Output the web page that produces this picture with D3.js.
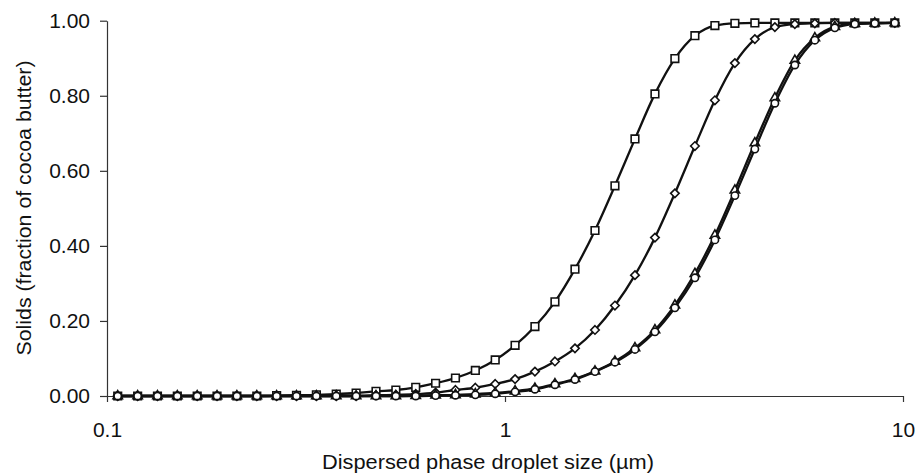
<!DOCTYPE html>
<html>
<head>
<meta charset="utf-8">
<script src="https://cdn.jsdelivr.net/npm/d3@7/dist/d3.min.js"></script>
<style>
  html, body { margin: 0; padding: 0; background: #fff; }
  svg { display: block; }
  text { font-family: "Liberation Sans", Arial, Helvetica, sans-serif; fill: #111; }
</style>
</head>
<body>
<svg id="chart" width="915" height="475"></svg>
<script>
// Droplet size classes (µm), log-spaced
const sizes = [
  0.1064, 0.1194, 0.1339, 0.1502, 0.1685, 0.1890, 0.2120, 0.2379, 0.2668, 0.2993,
  0.3358, 0.3767, 0.4226, 0.4741, 0.5318, 0.5966, 0.6693, 0.7508, 0.8423, 0.9449,
  1.060, 1.189, 1.335, 1.499, 1.683, 1.889, 2.121, 2.381, 2.672, 3.000,
  3.368, 3.781, 4.244, 4.765, 5.349, 6.005, 6.741, 7.567, 8.495, 9.537
];

// Cumulative solids (fraction of cocoa butter) per size class
const squareSolids = [
  0, 0, 0, 0, 0, 0, 0, 0, 0.001, 0.002,
  0.003, 0.005, 0.008, 0.0125, 0.016, 0.023, 0.034, 0.048, 0.068, 0.096,
  0.135, 0.185, 0.251, 0.338, 0.441, 0.560, 0.685, 0.805, 0.899, 0.960,
  0.987, 0.993, 0.994, 0.994, 0.994, 0.994, 0.994, 0.994, 0.994, 0.994
];
const diamondSolids = [
  0, 0, 0, 0, 0, 0, 0, 0, 0, 0,
  0, 0, 0, 0.002, 0.003, 0.005, 0.009, 0.016, 0.022, 0.032,
  0.045, 0.065, 0.092, 0.127, 0.176, 0.241, 0.322, 0.422, 0.540, 0.666,
  0.788, 0.887, 0.951, 0.983, 0.991, 0.993, 0.994, 0.994, 0.994, 0.994
];
const triangleSolids = [
  0, 0, 0, 0, 0, 0, 0, 0, 0, 0,
  0, 0, 0, 0, 0, 0.001, 0.002, 0.003, 0.005, 0.008,
  0.013, 0.020, 0.032, 0.046, 0.066, 0.092, 0.128, 0.176, 0.242, 0.326,
  0.428, 0.548, 0.674, 0.794, 0.894, 0.954, 0.984, 0.992, 0.993, 0.994
];
const circleSolids = [
  0, 0, 0, 0, 0, 0, 0, 0, 0, 0,
  0, 0, 0, 0, 0, 0, 0.001, 0.002, 0.003, 0.006,
  0.011, 0.018, 0.030, 0.044, 0.065, 0.090, 0.124, 0.171, 0.235, 0.315,
  0.416, 0.534, 0.658, 0.780, 0.882, 0.948, 0.981, 0.991, 0.993, 0.994
];

const xTicks = [0.1, 1, 10];
const yTicks = [0, 0.2, 0.4, 0.6, 0.8, 1.0];
const xTitle = "Dispersed phase droplet size (\u00B5m)";
const yTitle = "Solids (fraction of cocoa butter)";

const series = [
  { values: squareSolids,   symbol: d3.symbolSquare,   size: 58 },
  { values: diamondSolids,  symbol: d3.symbolDiamond2, size: 46 },
  { values: triangleSolids, symbol: d3.symbolTriangle, size: 38 },
  { values: circleSolids,   symbol: d3.symbolCircle,   size: 42 }
];

const svg = d3.select("#chart");
const x = d3.scaleLog().domain([0.1, 10]).range([107, 903]);
const y = d3.scaleLinear().domain([0, 1]).range([396, 20.7]);

// Axes
const yAxis = svg.append("g")
  .attr("transform", `translate(${x(0.1)},0)`)
  .call(d3.axisLeft(y).tickValues(yTicks).tickFormat(d3.format(".2f")).tickSizeInner(7).tickSizeOuter(0).tickPadding(10));
const xAxis = svg.append("g")
  .attr("transform", `translate(0,${y(0)})`)
  .call(d3.axisBottom(x).tickValues(xTicks).tickFormat(d3.format("~g")).tickSizeInner(6).tickSizeOuter(0).tickPadding(20));

[yAxis, xAxis].forEach(g => {
  g.select(".domain").attr("stroke", "#333").attr("stroke-width", 1.2);
  g.selectAll(".tick line").attr("stroke", "#333").attr("stroke-width", 1.2);
  g.selectAll(".tick text").attr("font-size", 21).attr("fill", "#111")
    .style("font-family", '"Liberation Sans", Arial, sans-serif');
});

// Axis titles
svg.append("text")
  .attr("x", 488).attr("y", 469)
  .attr("text-anchor", "middle")
  .attr("font-size", 20)
  .attr("textLength", 332)
  .attr("lengthAdjust", "spacingAndGlyphs")
  .text(xTitle);
svg.append("text")
  .attr("transform", `translate(31,208) rotate(-90)`)
  .attr("text-anchor", "middle")
  .attr("font-size", 20)
  .attr("textLength", 295)
  .attr("lengthAdjust", "spacingAndGlyphs")
  .text(yTitle);

// Smoothed curves and open markers
const line = d3.line()
  .x((d, i) => x(sizes[i]))
  .y(d => y(d))
  .curve(d3.curveMonotoneX);

const plot = svg.append("g");
series.forEach(s => {
  const g = plot.append("g");
  g.append("path")
    .attr("d", line(s.values))
    .attr("fill", "none")
    .attr("stroke", "#111")
    .attr("stroke-width", 2.3);
  g.selectAll("path.marker")
    .data(s.values)
    .join("path")
    .attr("class", "marker")
    .attr("transform", (d, i) => `translate(${x(sizes[i])},${y(d)})`)
    .attr("d", d3.symbol().type(s.symbol).size(s.size))
    .attr("fill", "#fff")
    .attr("stroke", "#111")
    .attr("stroke-width", 1.6);
});
</script>
</body>
</html>
